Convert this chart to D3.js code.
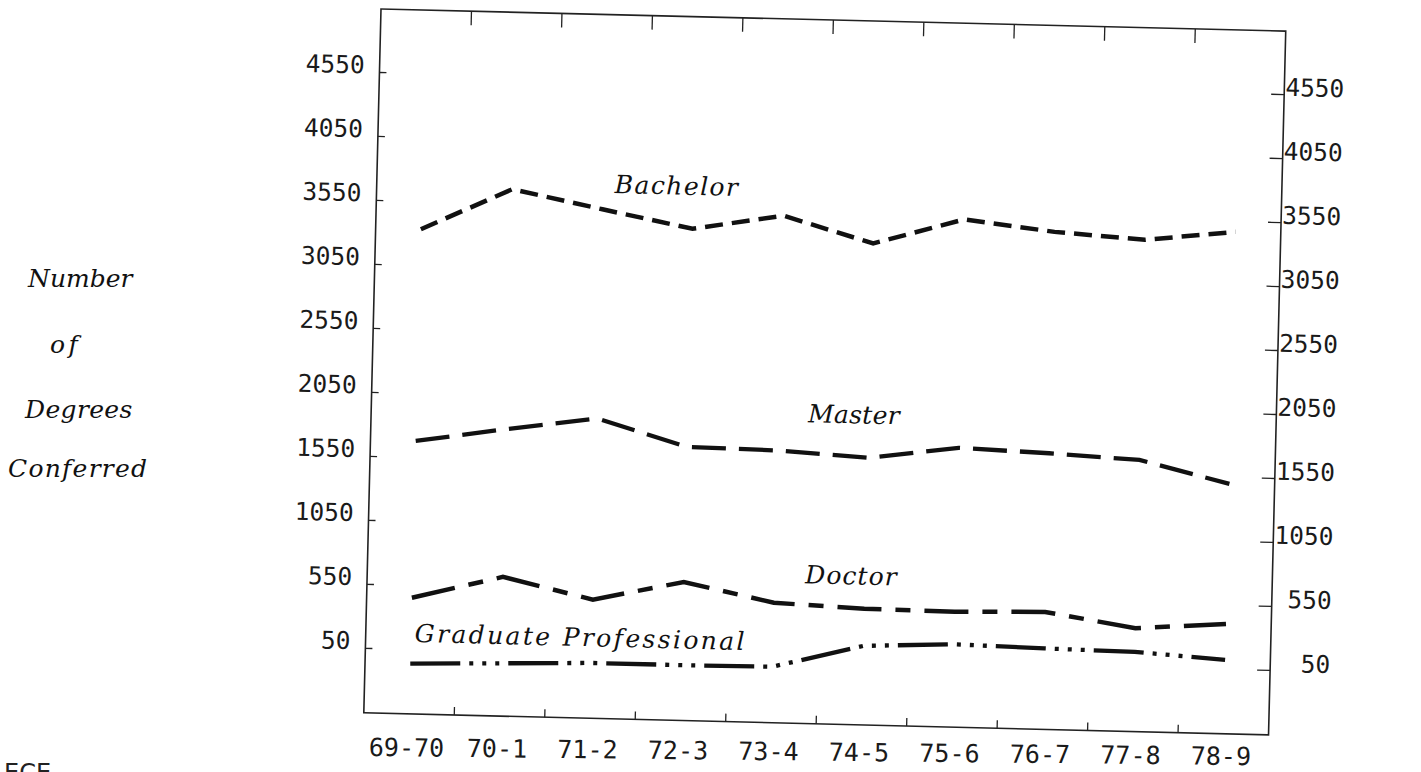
<!DOCTYPE html>
<html>
<head>
<meta charset="utf-8">
<script src="https://cdn.jsdelivr.net/npm/d3@7"></script>
<style>
  body { margin: 0; background: #fff; }
  svg { display: block; }
  .num { font-family: "DejaVu Sans Mono", monospace; font-size: 24.5px; fill: #1a1a1a; }
  .ital { font-family: "DejaVu Serif", "Liberation Serif", serif; font-style: italic; font-size: 25px; fill: #111; }
</style>
</head>
<body>
<div id="chart"></div>
<script>
// academic years on the x axis
var years = ["69-70", "70-1", "71-2", "72-3", "73-4", "74-5", "75-6", "76-7", "77-8", "78-9"];
// degrees conferred
var bachelor = [3330, 3660, 3520, 3385, 3505, 3305, 3510, 3430, 3385, 3465];
var master   = [1675, 1785, 1885, 1680, 1670, 1630, 1725, 1700, 1665, 1495];
var doctor   = [450, 630, 470, 625, 480, 450, 445, 460, 350, 400];
var gradProf = [-65, -45, -25, -25, -20, 160, 190, 175, 165, 120];
var yTicks = [50, 550, 1050, 1550, 2050, 2550, 3050, 3550, 4050, 4550];
var titleLines = ["Number", "of", "Degrees", "Conferred"];

var width = 1421, height = 772;
var W = 905, H = 704;   // frame size before the scan tilt
var charW = 15.9;       // typewriter pitch of the italic labels

var svg = d3.select("#chart").append("svg")
    .attr("width", width)
    .attr("height", height);

svg.append("rect").attr("width", width).attr("height", height).attr("fill", "#fff");

var x = d3.scaleBand().domain(years).range([0, W]);
var y = d3.scaleLinear().domain([50, 4550]).range([639, 63]);

// the page was scanned a little crooked
var g = svg.append("g").attr("transform", "translate(381,9) rotate(1.4)");

g.append("rect")
    .attr("width", W).attr("height", H)
    .attr("fill", "none")
    .attr("stroke", "#222")
    .attr("stroke-width", 1.6);

// left ticks + labels
var left = g.append("g")
    .call(d3.axisLeft(y).tickValues(yTicks).tickFormat(d3.format("d"))
        .tickSize(-7).tickSizeOuter(0).tickPadding(15));
left.select(".domain").remove();
left.selectAll("line").attr("stroke", "#222").attr("stroke-width", 1.3);
left.selectAll("text").attr("class", "num").attr("fill", null).attr("dy", "0.05em")
    .attr("font-family", null).attr("font-size", null);

// right ticks + labels
var right = g.append("g").attr("transform", "translate(" + W + ",0)")
    .call(d3.axisRight(y).tickValues(yTicks).tickFormat(d3.format("d"))
        .tickSize(-13).tickSizeOuter(0));
right.select(".domain").remove();
right.selectAll("line").attr("stroke", "#222").attr("stroke-width", 1.3);
right.selectAll("text").attr("class", "num").attr("fill", null)
    .attr("x", 60).attr("text-anchor", "end").attr("dy", "0.05em")
    .attr("font-family", null).attr("font-size", null);

// ticks between the years, top and bottom
g.append("g").selectAll("line")
    .data(years.slice(1)).enter()
    .append("line")
    .attr("x1", function(d) { return x(d); })
    .attr("x2", function(d) { return x(d); })
    .attr("y1", 0).attr("y2", 14)
    .attr("stroke", "#222").attr("stroke-width", 1.3);

g.append("g").selectAll("line")
    .data(years.slice(1)).enter()
    .append("line")
    .attr("x1", function(d) { return x(d); })
    .attr("x2", function(d) { return x(d); })
    .attr("y1", H - 8).attr("y2", H)
    .attr("stroke", "#222").attr("stroke-width", 1.3);

// the four series
var series = [
    { name: "Bachelor", values: bachelor, dash: "18,9", sw: 4.5 },
    { name: "Master", values: master, dash: "34,13", sw: 4.3 },
    { name: "Doctor", values: doctor, dash: "44,14,15,14", sw: 4.5 },
    { name: "Graduate Professional", values: gradProf, dash: "50,9,4,9,4,9,4,9", sw: 4.3 }
];

var line = d3.line()
    .x(function(d, i) { return x(years[i]) + x.bandwidth() / 2; })
    .y(function(d) { return y(d); });

g.selectAll(".series")
    .data(series).enter()
    .append("path")
    .attr("class", "series")
    .attr("d", function(d) { return line(d.values); })
    .attr("fill", "none")
    .attr("stroke", "#111")
    .attr("stroke-width", function(d) { return d.sw; })
    .attr("stroke-dasharray", function(d) { return d.dash; });

// spread the italic text out to typewriter pitch, never squeeze it
function typed(sel, str) {
    sel.attr("class", "ital").text(str);
    var want = str.length * charW - 4;
    if (sel.node().getComputedTextLength() < want) {
        sel.attr("textLength", want).attr("lengthAdjust", "spacing");
    }
}

// series names, typed next to the lines
typed(g.append("text").attr("x", x(years[2]) + 57).attr("y", y(3650)), series[0].name);
typed(g.append("text").attr("x", x(years[4]) + 75).attr("y", y(1897)), series[1].name);
typed(g.append("text").attr("x", x(years[4]) + 76).attr("y", y(638)), series[2].name);
typed(g.append("text").attr("x", x(years[0]) + 49).attr("y", y(105)), series[3].name);

// year labels sit a bit flatter than the frame
var xl = svg.append("g").attr("transform", "translate(381,9) rotate(0.6)");
xl.selectAll("text")
    .data(years).enter()
    .append("text")
    .attr("class", "num")
    .attr("x", function(d) { return x(d) + x.bandwidth() / 2 - 12; })
    .attr("y", 747)
    .attr("text-anchor", "middle")
    .style("font-size", "25px")
    .text(function(d) { return d; });

// y axis title, left of the frame
var titleX = [28, 50, 25, 8];
var titleY = [287, 353, 418, 477];
svg.append("g").selectAll("text")
    .data(titleLines).enter()
    .append("text")
    .each(function(d, i) {
        typed(d3.select(this).attr("x", titleX[i]).attr("y", titleY[i]), d);
    });

// stray text cut off at the page edge
svg.append("text")
    .attr("x", 4).attr("y", 781)
    .attr("font-family", "DejaVu Sans, sans-serif")
    .attr("font-size", 24)
    .attr("fill", "#222")
    .text("ECE");
</script>
</body>
</html>
